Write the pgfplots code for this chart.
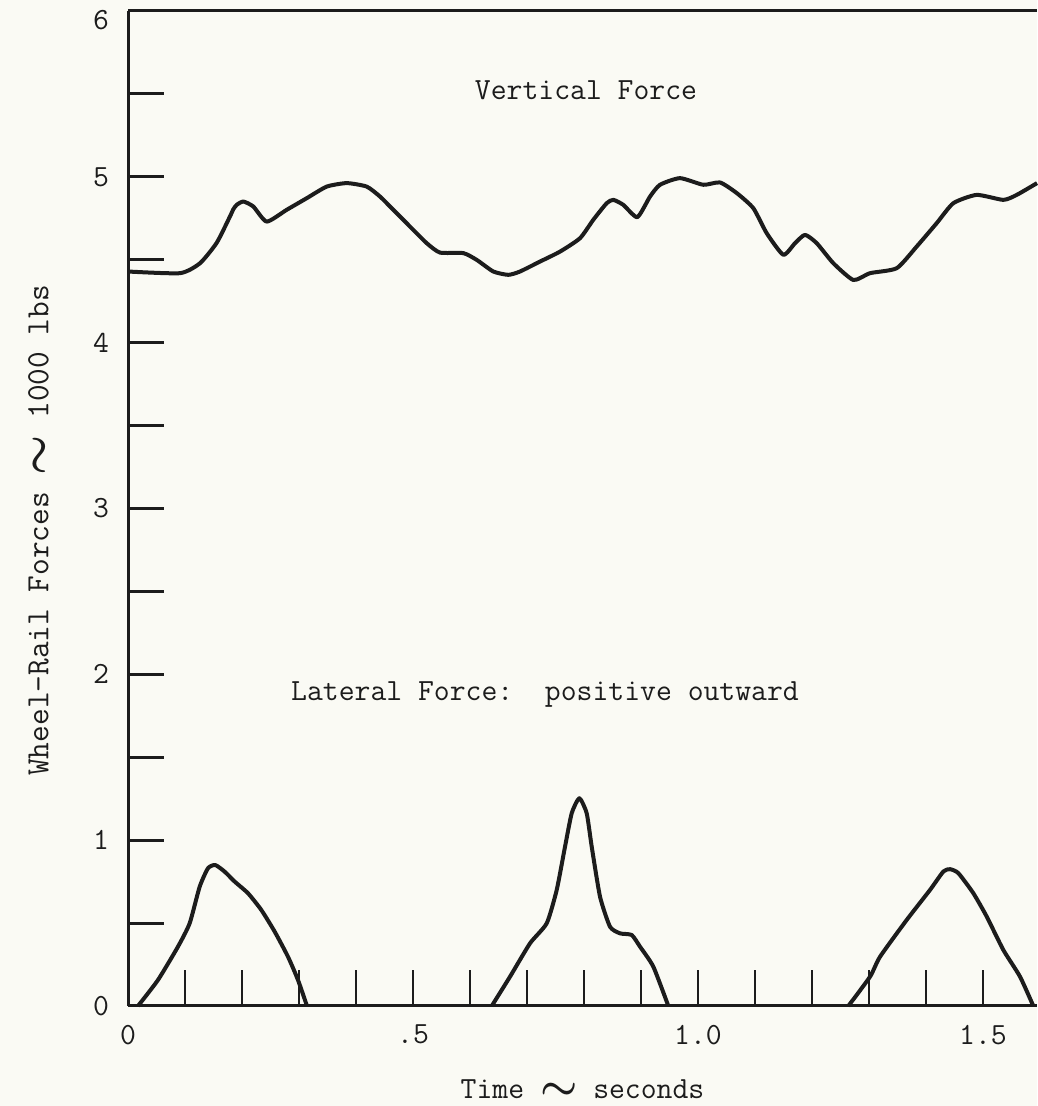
\documentclass[border=0pt]{standalone}
\usepackage{pgfplots}
\pgfplotsset{compat=1.18}
\usepackage{amsmath}
\definecolor{paper}{RGB}{250,250,244}
\definecolor{ink}{RGB}{28,28,28}
\newcommand{\fs}{\fontsize{15.4}{17}\selectfont\ttfamily}
\newcommand{\tld}{\raisebox{-0.5pt}{\scalebox{1.45}{$\boldsymbol{\sim}$}}}
\newcommand{\tldy}{\raisebox{-1pt}{\scalebox{1.3}{$\boldsymbol{\sim}$}}}
\begin{document}
\begin{tikzpicture}
\fill[paper] (-64pt,-50pt) rectangle (454.5pt,503pt);
\begin{axis}[
  scale only axis, width=454.5pt, height=497.5pt,
  xmin=0, xmax=1.5947, ymin=0, ymax=6,
  axis x line=box, axis y line=left,
  x axis line style={-}, y axis line style={-},
  axis line style={line width=1.5pt, ink},
  tick align=inside,
  xtick pos=bottom, ytick pos=left,
  major tick length=18pt,
  every x tick/.style={line width=0.9pt, ink},
  every y tick/.style={line width=1.5pt, ink},
  xtick={0,0.1,0.2,0.3,0.4,0.5,0.6,0.7,0.8,0.9,1.0,1.1,1.2,1.3,1.4,1.5},
  xticklabels={0,,,,,.5,,,,,1.0,,,,,1.5},
  ytick={0,0.5,1,1.5,2,2.5,3,3.5,4,4.5,5,5.5,6},
  yticklabels={0,,1,,2,,3,,4,,5,,},
  /pgf/number format/assume math mode=true,
  every tick label/.append style={font=\fs, text=ink},
  yticklabel style={xshift=-6pt},
  xticklabel style={yshift=-6pt},
  clip=false,
  every axis x label/.style={at={(axis description cs:0.5,-0.0844)},anchor=center},
  every axis y label/.style={at={(axis description cs:-0.0975,0.478)},rotate=90,anchor=center,inner sep=1pt},
  xlabel={\fs Time \tld{} seconds},
  ylabel={\fontsize{16.2}{18}\selectfont\ttfamily Wheel-Rail Forces \tldy{} 1000 lbs},
  label style={text=ink},
]
% Vertical force
\addplot[ink, line width=2pt, smooth, tension=0.35, line join=round] coordinates {
(0,4.429) (0.0912,4.419) (0.1263,4.479) (0.1556,4.602) (0.1789,4.761) (0.1847,4.804)
(0.1907,4.831) (0.2023,4.851) (0.2198,4.821) (0.2433,4.730) (0.2784,4.801) (0.3135,4.871)
(0.3486,4.941) (0.3837,4.962) (0.4188,4.941) (0.4421,4.881) (0.4654,4.801) (0.4947,4.700)
(0.5240,4.600) (0.5474,4.543) (0.5882,4.540) (0.6118,4.499) (0.6409,4.429) (0.6672,4.409)
(0.6877,4.429) (0.7228,4.489) (0.7579,4.549) (0.7930,4.630) (0.8163,4.741) (0.8398,4.841)
(0.8514,4.861) (0.8689,4.831) (0.8935,4.757) (0.9158,4.881) (0.9333,4.952) (0.9684,4.992)
(1.0093,4.952) (1.0386,4.966) (1.0679,4.902) (1.0970,4.811) (1.1205,4.660) (1.1496,4.530)
(1.1702,4.600) (1.1877,4.650) (1.2082,4.600) (1.2374,4.479) (1.2725,4.378) (1.3018,4.419)
(1.3486,4.449) (1.3837,4.580) (1.4188,4.721) (1.4479,4.841) (1.4889,4.891) (1.5356,4.861)
(1.5591,4.891) (1.5947,4.962)
};
% Lateral force, hump 1
\addplot[ink, line width=2pt, smooth, tension=0.35, line join=round] coordinates {
(0.0175,0) (0.0526,0.157) (0.0877,0.358) (0.1082,0.499) (0.1258,0.720) (0.1404,0.831)
(0.1532,0.850) (0.1696,0.810) (0.1872,0.750) (0.2105,0.680) (0.2339,0.579) (0.2574,0.448)
(0.2807,0.297) (0.2982,0.157) (0.3140,0)
};
% Lateral force, hump 2
\addplot[ink, line width=2pt, smooth, tension=0.35, line join=round] coordinates {
(0.6381,0) (0.6702,0.177) (0.7053,0.378) (0.7346,0.499) (0.7521,0.700) (0.7667,0.961)
(0.7784,1.162) (0.7918,1.253) (0.8047,1.162) (0.8135,0.961) (0.8281,0.659) (0.8456,0.478)
(0.8632,0.438) (0.8837,0.428) (0.8982,0.358) (0.9216,0.237) (0.9479,0)
};
% Lateral force, hump 3
\addplot[ink, line width=2pt, smooth, tension=0.35, line join=round] coordinates {
(1.2637,0) (1.3018,0.177) (1.3193,0.297) (1.3661,0.519) (1.4070,0.700) (1.4304,0.811)
(1.4421,0.825) (1.4567,0.801) (1.4830,0.680) (1.5065,0.539) (1.5356,0.338) (1.5649,0.177)
(1.5882,0)
};
\node[font=\fs, text=ink] at (axis cs:0.8035,5.52) {Vertical Force};
\node[font=\fs, text=ink] at (axis cs:0.7316,1.88) {Lateral Force:\ \ positive outward};
\node[font=\fs, text=ink, anchor=east] at ([xshift=-6pt,yshift=-4.5pt]axis cs:0,6) {6};
\end{axis}
\pgfresetboundingbox
\path[use as bounding box] (-64pt,-50pt) rectangle (454.5pt,503pt);
\end{tikzpicture}
\end{document}
